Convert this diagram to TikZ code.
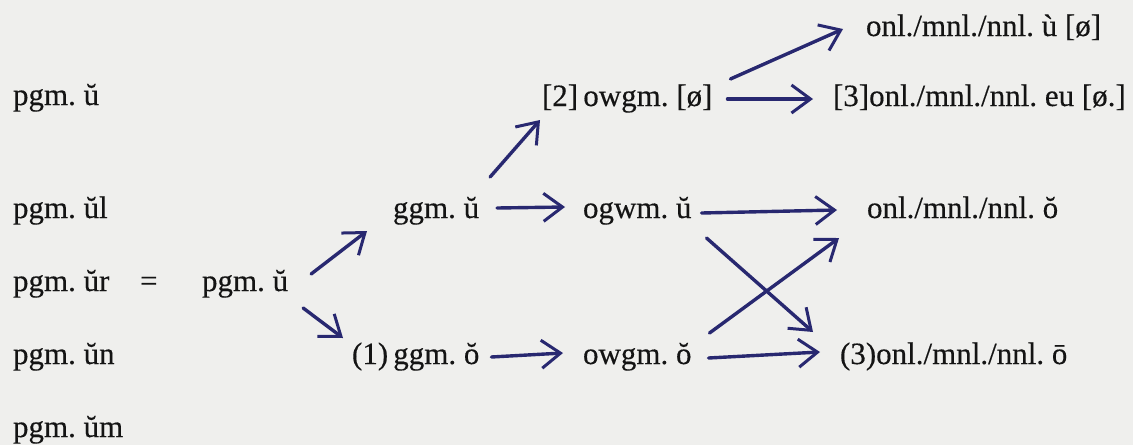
\documentclass[tikz,border=0pt]{standalone}
\usepackage{fontspec}
\setmainfont[FakeBold=0.3]{Liberation Serif}
\usetikzlibrary{arrows.meta,calc}
\definecolor{paper}{RGB}{239,239,237}
\definecolor{ink}{RGB}{20,20,20}
\definecolor{pen}{RGB}{40,40,112}
\frenchspacing
\begin{document}
\begin{tikzpicture}[x=0.5pt,y=-0.5pt,
  lbl/.style={inner sep=0pt, outer sep=0pt, anchor=base west, text=ink,
              font=\fontsize{15.5pt}{18pt}\selectfont\frenchspacing},
  arr/.style={draw=pen, line width=1.7pt, line cap=round,
              -{Straight Barb[length=9.5pt,width=14pt,line width=1.5pt]}}]
\fill[paper] (0,0) rectangle (1133,445);
\useasboundingbox (0,0) rectangle (1133,445);
% left column
\node[lbl] (l1) at (13,105) {pgm. ŭ};
\node[lbl] (l2) at (13,218) {pgm. ŭl};
\node[lbl] (l3) at (13,291) {pgm. ŭr};
\node[lbl] (l4) at (13,364) {pgm. ŭn};
\node[lbl] (l5) at (13,437) {pgm. ŭm};
\node[lbl] (eq) at (140,291) {=};
% main graph
\node[lbl] (pgmm)   at (202,291) {pgm. ŭ};
\node[lbl] (ggmu)   at (393,218) {ggm. ŭ};
\node[lbl] (ggmo)   at (352,364) {(1)\,ggm. ŏ};
\node[lbl] (ogwmu)  at (583,218) {ogwm. ŭ};
\node[lbl] (owgmo)  at (583,364) {owgm. ŏ};
\node[lbl] (owgm2)  at (542,106) {[2]\,owgm. [ø]};
\node[lbl] (onlu)   at (866,36)  {onl./mnl./nnl. ù [ø]};
\node[lbl] (onl3)   at (833,106) {[3]onl./mnl./nnl. eu [ø.]};
\node[lbl] (onlo)   at (867,218) {onl./mnl./nnl. ŏ};
\node[lbl] (onlbar) at (840,364) {(3)onl./mnl./nnl. ō};
% connectors
\draw[arr] ($(pgmm.base east)+(23,-17)$) -- ($(ggmu.base west)+(-26,13)$);
\draw[arr] ($(pgmm.base east)+(15,17)$) -- ($(ggmo.base west)+(-9,-26)$);
\draw[arr] ($(ggmu.base east)+(18,-10)$) -- ($(ogwmu.base west)+(-18,-11)$);
\draw[arr] ($(ggmu.base east)+(11,-41)$) -- ($(owgm2.base west)+(-2,14)$);
\draw[arr] ($(ggmo.base east)+(12,-7)$) -- ($(owgmo.base west)+(-20,-11)$);
\draw[arr] ($(owgm2.base east)+(15,-7)$) -- ($(onl3.base west)+(-20,-7)$);
\draw[arr] ($(owgm2.base east)+(18,-27)$) -- ($(onlu.base west)+(-23,-7)$);
\draw[arr] ($(ogwmu.base east)+(10,-5)$) -- ($(onlo.base west)+(-30,-8)$);
\draw[arr] ($(ogwmu.base east)+(15,20)$) -- ($(onlbar.base west)+(-27,-32)$);
\draw[arr] ($(owgmo.base east)+(18,-31)$) -- ($(onlo.base west)+(-28,20)$);
\draw[arr] ($(owgmo.base east)+(17,-6)$) -- ($(onlbar.base west)+(-20,-12)$);
\end{tikzpicture}
\end{document}
